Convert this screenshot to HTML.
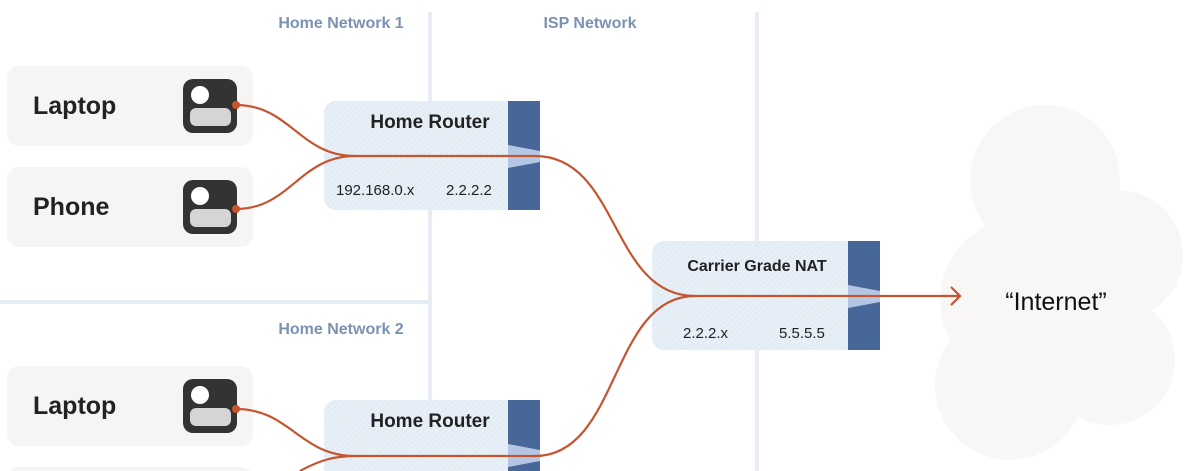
<!DOCTYPE html>
<html><head><meta charset="utf-8"><style>
html,body{margin:0;padding:0;background:#fff;width:1200px;height:471px;overflow:hidden;}
svg{display:block;font-family:"Liberation Sans",sans-serif;}
</style></head><body>
<svg width="1200" height="471" viewBox="0 0 1200 471" xmlns="http://www.w3.org/2000/svg">
<defs>
<pattern id="hatch" width="4" height="4" patternUnits="userSpaceOnUse" patternTransform="rotate(45)">
<rect width="4" height="4" fill="#e6eef7"/><line x1="0" y1="0" x2="0" y2="4" stroke="#d6e1ee" stroke-width="1"/>
</pattern>
</defs>
<g fill="#f8f7f6">
<circle cx="1045" cy="180" r="75"/>
<circle cx="1118" cy="255" r="65"/>
<circle cx="1022" cy="300" r="82"/>
<circle cx="1010" cy="385" r="75"/>
<circle cx="1110" cy="360" r="65"/>
<circle cx="1060" cy="300" r="80"/>
</g>
<text x="1056" y="310" font-size="25" text-anchor="middle" fill="#111">“Internet”</text>
<g stroke="#e6edf5" stroke-width="4">
<line x1="430" y1="12" x2="430" y2="471"/>
<line x1="757" y1="12" x2="757" y2="471"/>
<line x1="0" y1="302" x2="428" y2="302"/>
</g>
<g font-size="16" font-weight="bold" fill="#7b92b0" text-anchor="middle">
<text x="341" y="28">Home Network 1</text>
<text x="590" y="28">ISP Network</text>
<text x="341" y="334">Home Network 2</text>
</g>
<g>
<rect x="7" y="66" width="246" height="80" rx="12" fill="#f6f5f3"/>
<rect x="7" y="167" width="246" height="80" rx="12" fill="#f6f5f3"/>
<rect x="7" y="366" width="246" height="80" rx="12" fill="#f6f5f3"/>
<rect x="7" y="467" width="246" height="80" rx="12" fill="#f6f5f3"/>
</g>
<g font-size="25" font-weight="bold" fill="#222">
<text x="33" y="114">Laptop</text>
<text x="33" y="215">Phone</text>
<text x="33" y="414">Laptop</text>
</g>
<g>
<g transform="translate(183,79)"><rect width="54" height="54" rx="10" fill="#333"/><circle cx="17" cy="16" r="9" fill="#fff"/><rect x="7" y="29" width="41" height="18" rx="6" fill="#d5d5d5"/></g>
<g transform="translate(183,180)"><rect width="54" height="54" rx="10" fill="#333"/><circle cx="17" cy="16" r="9" fill="#fff"/><rect x="7" y="29" width="41" height="18" rx="6" fill="#d5d5d5"/></g>
<g transform="translate(183,379)"><rect width="54" height="54" rx="10" fill="#333"/><circle cx="17" cy="16" r="9" fill="#fff"/><rect x="7" y="29" width="41" height="18" rx="6" fill="#d5d5d5"/></g>
</g>
<g>
<rect x="324" y="101" width="200" height="109" rx="12" fill="url(#hatch)" opacity="0.95"/>
<rect x="508" y="101" width="32" height="109" fill="#486799"/>
<polygon points="508,145 540,151 540,162 508,168" fill="#b4c6e4"/>
<text x="430" y="128" font-size="19" font-weight="bold" fill="#222" text-anchor="middle">Home Router</text>
<text x="336" y="195" font-size="15" fill="#222">192.168.0.x</text>
<text x="446" y="195" font-size="15" fill="#222">2.2.2.2</text>

<rect x="324" y="400" width="200" height="109" rx="12" fill="url(#hatch)" opacity="0.95"/>
<rect x="508" y="400" width="32" height="109" fill="#486799"/>
<polygon points="508,444 540,450 540,461 508,467" fill="#b4c6e4"/>
<text x="430" y="427" font-size="19" font-weight="bold" fill="#222" text-anchor="middle">Home Router</text>

<rect x="652" y="241" width="212" height="109" rx="12" fill="url(#hatch)" opacity="0.95"/>
<rect x="848" y="241" width="32" height="109" fill="#486799"/>
<polygon points="848,285 880,291 880,302 848,308" fill="#b4c6e4"/>
<text x="757" y="271" font-size="16" font-weight="bold" fill="#222" text-anchor="middle">Carrier Grade NAT</text>
<text x="683" y="338" font-size="15" fill="#222">2.2.2.x</text>
<text x="779" y="338" font-size="15" fill="#222">5.5.5.5</text>
</g>
<g fill="none" stroke="#c4552f" stroke-width="2.2">
<path d="M236,105 C290,105 300,156 355,156"/>
<path d="M236,209 C290,209 300,156 355,156"/>
<path d="M355,156 L535,156 C620,156 610,296 695,296"/>
<path d="M236,409 C290,409 300,456 355,456"/>
<path d="M300,471 C320,460 335,456 355,456"/>
<path d="M355,456 L535,456 C620,456 610,296 695,296"/>
<path d="M695,296 L960,296"/>
<path d="M951,287 L960,296 L951,305"/>
</g>
<g fill="#c4552f">
<circle cx="236" cy="105" r="4"/><circle cx="236" cy="209" r="4"/><circle cx="236" cy="409" r="4"/>
</g>
</svg>
</body></html>
